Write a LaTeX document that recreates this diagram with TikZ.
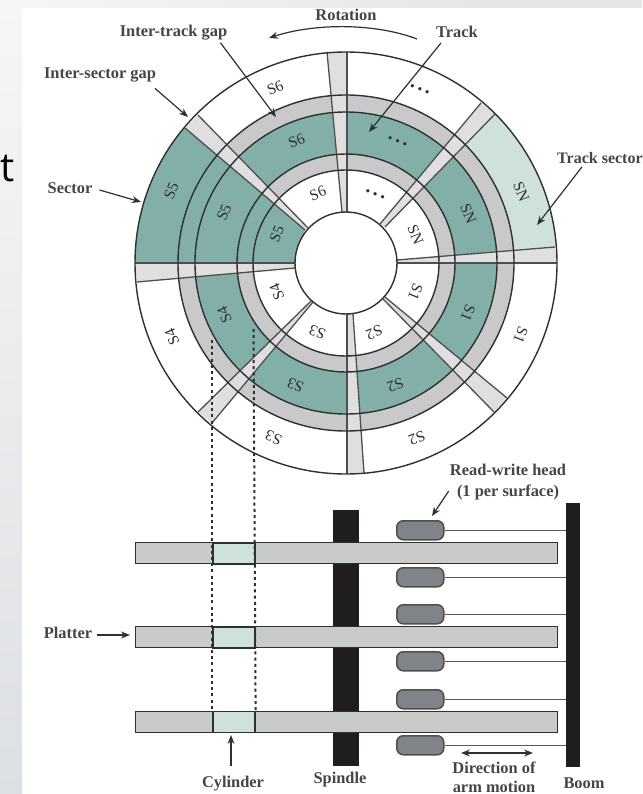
\documentclass[tikz,border=0pt]{standalone}
\usepackage{fontspec}
\setmainfont{Liberation Serif}
\newfontfamily\slidefont{Open Sans}
\usetikzlibrary{arrows.meta}
\definecolor{teal}{HTML}{82B0A9}
\definecolor{lteal}{HTML}{CFE1DD}
\definecolor{ringgray}{HTML}{C9C9CC}
\definecolor{gapgray}{HTML}{E1DEE1}
\definecolor{platgray}{HTML}{C9CACA}
\definecolor{headgray}{HTML}{808387}
\definecolor{ink}{HTML}{2E3032}
\definecolor{blackbar}{HTML}{1F1D1E}
\definecolor{slidetopa}{HTML}{F6F6F7}
\definecolor{slidebot}{HTML}{DDE0E3}
\definecolor{slidetopb}{HTML}{E6E6E6}
\tikzset{
  x=1pt,y=-1pt,
  lbl/.style={font=\fontsize{16.4}{18}\selectfont\bfseries,text=ink!90,inner sep=0pt,align=center},
  sec/.style={font=\fontsize{15.5}{17}\selectfont,text=ink,inner sep=0pt},
  arr/.style={draw=ink,line width=1.2pt,-{Stealth[length=9pt,width=7pt]}},
  track/.style={draw=ink,line width=1.4pt},
  gapedge/.style={draw=ink!85,line width=1.3pt},
  gapfill/.style={fill=gapgray},
  platter/.style={draw=ink,line width=1.4pt,fill=platgray,minimum height=21pt,minimum width=422pt,inner sep=0pt,anchor=north west},
  cyl/.style={draw=ink,line width=1.6pt,fill=lteal,minimum height=21pt,minimum width=42pt,inner sep=0pt,anchor=north west},
  head/.style={draw=ink!85,line width=1.5pt,fill=headgray,rounded corners=6.5pt,minimum height=19pt,minimum width=47pt,inner sep=0pt,anchor=north west},
  armline/.style={draw=ink!80,line width=1.3pt},
  bar/.style={fill=blackbar,inner sep=0pt,anchor=north west},
  dots/.style={draw=ink,line width=2pt,dash pattern=on 3pt off 3.2pt},
}
\begin{document}
\begin{tikzpicture}
\useasboundingbox (0,0) rectangle (642,794);
% slide background behind the picture
\shade[top color=slidetopa,bottom color=slidebot] (0,0) rectangle (22,794);
\shade[left color=slidetopa,right color=slidetopb] (0,0) rectangle (480,8);
\fill[slidetopb] (480,0) rectangle (642,8);
\fill[white] (22,8) rectangle (642,794);
\node[font=\slidefont\fontsize{40}{40}\selectfont,text=black,inner sep=0pt,anchor=west] (slidet) at (0,169) {t};

\coordinate (c) at (346,263);
% disk base
\fill[white] (c) circle[radius=211pt];
% SN track sector (outer track)
\begin{scope}
  \clip (c) circle[radius=211pt];
  \fill[lteal] (385,227) -- (520,88) -- (600,88) -- (600,243) -- (397,260) -- cycle;
\end{scope}
% rings
\fill[ringgray] (c) circle[radius=168pt];
\fill[teal] (c) circle[radius=151pt];
\fill[ringgray] (c) circle[radius=109pt];
\fill[white] (c) circle[radius=93pt];
% S5 sector (whole wedge)
\begin{scope}
  \clip (c) circle[radius=211pt];
  \fill[teal] (305,230) -- (150,98) -- (100,98) -- (100,263) -- (295,263) -- cycle;
\end{scope}
% sector gaps
\fill[gapfill] (185,128) -- (198,115) -- (308,228) -- (305,230) -- cycle;
\fill[gapfill] (327,52) -- (347,52) -- (347,212) -- (342,212) -- cycle;
\fill[gapfill] (481,103) -- (495,114) -- (385,227) -- (380,224) -- cycle;
\fill[gapfill] (555,247) -- (557,263) -- (397,263) -- (397,260) -- cycle;
\fill[gapfill] (507,398) -- (494,412) -- (383,299) -- (385,297) -- cycle;
\fill[gapfill] (347,474) -- (364,473) -- (353,314) -- (347,314) -- cycle;
\fill[gapfill] (198,412) -- (212,423) -- (313,302) -- (312,300) -- cycle;
\fill[gapfill] (135,263) -- (137,282) -- (295,268) -- (295,263) -- cycle;
% gap edges
\draw[gapedge] (185,128) -- (305,230);
\draw[gapedge] (198,115) -- (308,228);
\draw[gapedge] (327,52) -- (342,212);
\draw[gapedge] (347,52) -- (347,212);
\draw[gapedge] (481,103) -- (380,224);
\draw[gapedge] (495,114) -- (385,227);
\draw[gapedge] (555,247) -- (397,260);
\draw[gapedge] (557,263) -- (397,263);
\draw[gapedge] (507,398) -- (385,297);
\draw[gapedge] (494,412) -- (383,299);
\draw[gapedge] (347,474) -- (347,314);
\draw[gapedge] (364,473) -- (353,314);
\draw[gapedge] (198,412) -- (312,300);
\draw[gapedge] (212,423) -- (313,302);
\draw[gapedge] (135,263) -- (295,263);
\draw[gapedge] (137,282) -- (295,268);
% hole and track circles
\fill[white] (c) circle[radius=51pt];
\foreach \r in {211,168,151,109,93,51} \draw[track] (c) circle[radius=\r pt];

% sector labels
\begin{scope}[shift={(346,263)}]
  \foreach \a/\t in {112/S6,157.5/S5,203/S4,247.5/S3,292/S2,337.6/S1,22/SN}{
    \foreach \r in {189,132,75}{
      \node[sec,rotate=\a-90] at (\a:\r pt) {\t};
    }
  }
  \foreach \r in {189,132,75}{
    \node[font=\fontsize{20}{20}\selectfont\bfseries,text=ink,inner sep=0pt,rotate=-23] at (67:\r pt) {.\kern3pt.\kern3pt.};
  }
\end{scope}

% dotted cylinder guides
\coordinate (dlt) at (212,340);
\coordinate (drt) at (253.5,329);

% lower part: spindle, platters
\node[bar,minimum width=26pt,minimum height=256pt] (spindle) at (333,510) {};
\node[platter] (p1) at (135,542) {};
\node[platter] (p2) at (135,626) {};
\node[platter] (p3) at (135,710.5) {};
\node[cyl] (c1) at (212,542) {};
\node[cyl] (c2) at (212,626) {};
\node[cyl] (c3) at (212,710.5) {};
\draw[dots] (dlt) -- (c3.north west);
\draw[dots] (drt) -- (c3.north east);
% boom and heads
\node[bar,minimum width=14pt,minimum height=264pt] (boom) at (566,503) {};
\foreach \n/\y in {h1/520,h2/567,h3/604,h4/651,h5/689,h6/735}{
  \node[head] (\n) at (396,\y) {};
  \draw[armline] (\n.east) -- (\n.east -| boom.west);
}

% labels
\node[lbl] (lrot) at (346,15) {Rotation};
\node[lbl] (litg) at (173.5,33) {Inter-track gap};
\node[lbl] (lisg) at (100,75) {Inter-sector gap};
\node[lbl] (lsec) at (70,188) {Sector};
\node[lbl] (ltrk) at (457,32) {Track};
\node[lbl,anchor=west,font=\fontsize{16}{18}\selectfont\bfseries] (lts) at (557,158) {Track sector};
\node[lbl] (lrw) at (508,482) {Read-write head\\[3pt](1 per surface)};
\node[lbl] (lpl) at (68,633) {Platter};
\node[lbl] (lcy) at (233,784) {Cylinder};
\node[lbl] (lsp) at (340,780) {Spindle};
\node[lbl] (ldir) at (494,777) {Direction of\\[1pt]arm motion};
\node[lbl] (lbm) at (584,783) {Boom};

% arrows
\coordinate (rotS) at (417,39);
\coordinate (rotE) at (269,38);
\draw[arr] (rotS) .. controls (375,23) and (315,23) .. (rotE);
\coordinate (t1) at (276,117);
\draw[arr] ([xshift=-7pt,yshift=-2pt]litg.south east) -- (t1);
\coordinate (t2) at (188,117);
\draw[arr] ([xshift=55pt,yshift=-6pt]lisg.south) -- (t2);
\coordinate (t3) at (141,202);
\draw[arr] ([xshift=7pt,yshift=-2pt]lsec.east) -- (t3);
\coordinate (t4) at (369,132);
\draw[arr] ([xshift=-16pt,yshift=-5pt]ltrk.south) -- (t4);
\coordinate (t5) at (537,225);
\draw[arr] ([xshift=25pt,yshift=-3pt]lts.south west) -- (t5);
\coordinate (t6) at (432,516);
\draw[arr] ([xshift=-1pt,yshift=-9pt]lrw.west) -- (t6);
\coordinate (t7) at (130,635);
\draw[arr] ([xshift=5pt,yshift=-2pt]lpl.east) -- (t7);
\coordinate (t8) at (231,735);
\draw[arr] ([xshift=-2pt,yshift=10pt]lcy.north) -- (t8);
\coordinate (d1) at (461,753);
\coordinate (d2) at (533,753);
\draw[draw=ink,line width=1.2pt,{Stealth[length=9pt,width=7pt]}-{Stealth[length=9pt,width=7pt]}] (d1) -- (d2);
\end{tikzpicture}
\end{document}
